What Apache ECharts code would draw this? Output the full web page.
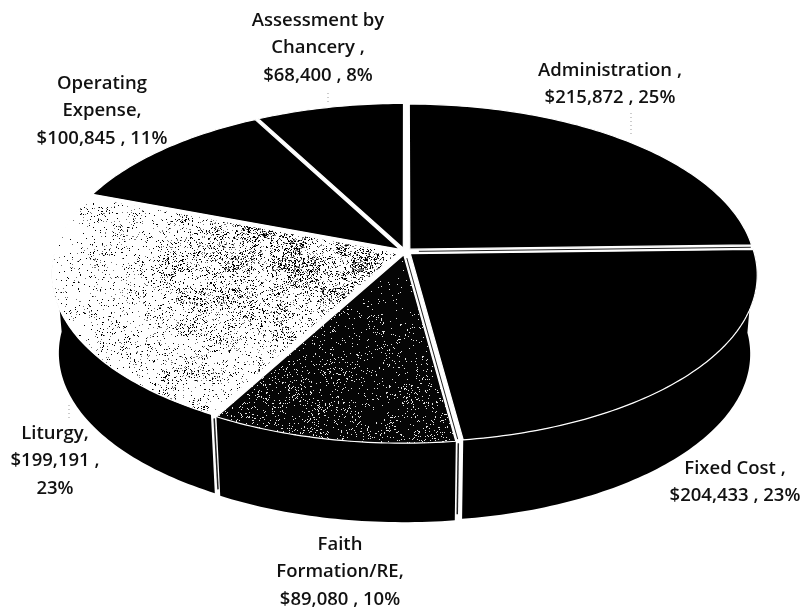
<!DOCTYPE html>
<html>
<head>
<meta charset="utf-8">
<script src="https://cdn.jsdelivr.net/npm/echarts@6/dist/echarts.min.js"></script>
<style>html,body{margin:0;padding:0;background:#fff}#main{width:804px;height:609px}</style>
</head>
<body>
<div id="main"></div>
<script>
// clockwise from 12 o'clock
var categories = ['Administration', 'Fixed Cost', 'Faith Formation/RE', 'Liturgy', 'Operating Expense', 'Assessment by Chancery'];
var amounts = [215872, 204433, 89080, 199191, 100845, 68400];
var labelLines = [
    ['Administration ,', '$215,872 , 25%'],
    ['Fixed Cost ,', '$204,433 , 23%'],
    ['Faith', 'Formation/RE,', '$89,080 , 10%'],
    ['Liturgy,', '$199,191 ,', '23%'],
    ['Operating', 'Expense,', '$100,845 , 11%'],
    ['Assessment by', 'Chancery ,', '$68,400 , 8%']
];

// tilted disc, front is nearer so it comes out bigger
var CX = 405, CY = 251.5, RX = 347, RY = 165.5, PERSP = 0.127, DEPTH = 79, BASE_SHRINK = 0.98;
var RIM = 0.99, EXPLODE = 0.02;
var labelAnchors = [[610, 84], [735, 482], [340, 572], [55, 461], [102, 111], [318, 48]];
var leaderLines = [[328, 93, 328, 103], [631, 113, 631, 137], [69, 405, 69, 418]];
var LINE_H = 27.5;

var total = amounts.reduce(function (a, b) { return a + b; }, 0);
var slices = [];
(function () {
    var acc = 0;
    amounts.forEach(function (v) {
        var start = acc / total * 360;
        acc += v;
        slices.push({ start: start, end: acc / total * 360 });
    });
})();

function project(deg, r, slice, low) {
    var a = deg * Math.PI / 180;
    var mid = (slice.start + slice.end) / 2 * Math.PI / 180;
    var px = r * Math.sin(a) + EXPLODE * Math.sin(mid);
    var py = -r * Math.cos(a) - EXPLODE * Math.cos(mid);
    var w = 1 - PERSP * py;
    return [
        CX + RX * px / w * (low ? BASE_SHRINK : 1),
        CY + RY * py / w + (low ? DEPTH : 0)
    ];
}

function arcPoints(from, to, slice, low) {
    var pts = [], n = Math.max(2, Math.ceil(Math.abs(to - from)));
    for (var i = 0; i <= n; i++) {
        pts.push(project(from + (to - from) * i / n, RIM, slice, low));
    }
    return pts;
}

// speckle left by the scan, a fixed hash so every run looks the same
function hash(x, y) {
    var h = (x * 374761393 + y * 668265263) | 0;
    h = Math.imul(h ^ (h >>> 13), 1274126177);
    return ((h ^ (h >>> 16)) >>> 0) / 4294967296;
}
function speckle(pick) {
    var c = document.createElement('canvas');
    c.width = 804; c.height = 609;
    var g = c.getContext('2d'), img = g.createImageData(804, 609);
    for (var y = 0; y < 609; y++) {
        for (var x = 0; x < 804; x++) {
            var big = hash(x >> 4, y >> 4), small = hash(x >> 1, y >> 1);
            var v = pick(x, y, big * 0.6 + small * 0.8, hash(x, y));
            var i = (y * 804 + x) * 4;
            img.data[i] = img.data[i + 1] = img.data[i + 2] = v;
            img.data[i + 3] = 255;
        }
    }
    g.putImageData(img, 0, 0);
    return c;
}
var lightGrain = speckle(function (x, y, clump, n) {
    var near = Math.min(1, Math.max(0, (x - 60) / 340));
    var band = Math.max(0, 1 - Math.abs(y - 235 - (x - 400) * -0.1) / 70);
    var d = (0.03 + 0.18 * near + 0.16 * band * near) * clump * clump * 2;
    return n < d ? (n < d * 0.55 ? 0 : 120) : 255;
});
var darkGrain = speckle(function (x, y, clump, n) {
    var low = Math.min(1, Math.max(0, (y - 300) / 130));
    var d = (0.02 + 0.06 * low) * clump * clump * 2;
    return n < d ? 225 : 5;
});
var topFill = ['#000', '#000', { image: darkGrain, repeat: 'no-repeat' }, { image: lightGrain, repeat: 'no-repeat' }, '#000', '#000'];

function renderWall(params) {
    var s = slices[params.dataIndex];
    var from = Math.max(s.start, 90), to = Math.min(s.end, 270);
    if (from >= to) return { type: 'group', children: [] };
    var pts = arcPoints(from, to, s, false).concat(arcPoints(to, from, s, true));
    return { type: 'polygon', shape: { points: pts }, style: { fill: '#000' } };
}

function renderTop(params) {
    var i = params.dataIndex, s = slices[i];
    var pts = [project(0, 0, s, false)].concat(arcPoints(s.start, s.end, s, false));
    return {
        type: 'polygon',
        shape: { points: pts },
        style: { fill: topFill[i], stroke: '#fff', lineWidth: 1.2, lineJoin: 'round' }
    };
}

// dark hairline left inside the gaps at the start of Fixed Cost and Faith, on the wall too at Faith and Liturgy
function renderSeam(params) {
    var idx = params.dataIndex + 1, deg = slices[idx].start;
    var s = { start: deg, end: deg };
    var children = [];
    if (idx < 3) {
        var a = project(deg, 0.02, s, false), b = project(deg, 0.98, s, false);
        children.push({ type: 'line', shape: { x1: a[0], y1: a[1], x2: b[0], y2: b[1] }, style: { stroke: '#222', lineWidth: 1 } });
    }
    if (deg > 90 && deg < 270) {
        var c = project(deg, RIM, s, false), d = project(deg, RIM, s, true);
        children.push({ type: 'line', shape: { x1: c[0], y1: c[1] + 2, x2: d[0], y2: d[1] - 6 }, style: { stroke: '#222', lineWidth: 1.5 } });
    }
    return { type: 'group', children: children };
}

function renderLabel(params) {
    var i = params.dataIndex;
    return {
        type: 'text',
        x: labelAnchors[i][0],
        y: labelAnchors[i][1],
        style: {
            text: labelLines[i].join('\n'),
            fill: '#111',
            font: '600 18.5px "Open Sans"',
            lineHeight: LINE_H,
            align: 'center',
            verticalAlign: 'middle'
        }
    };
}

function renderLeader(params, api) {
    return {
        type: 'line',
        shape: { x1: api.value(0), y1: api.value(1), x2: api.value(2), y2: api.value(3) },
        style: { stroke: '#999', lineWidth: 1, lineDash: [1, 3] }
    };
}

var chart = echarts.init(document.getElementById('main'));
var items = categories.map(function (name, i) { return { name: name, value: amounts[i] }; });
chart.setOption({
    animation: false,
    backgroundColor: '#fff',
    series: [
        { type: 'custom', coordinateSystem: 'none', z: 1, data: items, renderItem: renderWall },
        { type: 'custom', coordinateSystem: 'none', z: 2, data: items, renderItem: renderTop },
        { type: 'custom', coordinateSystem: 'none', z: 3, data: items.slice(1, 4), renderItem: renderSeam },
        { type: 'custom', coordinateSystem: 'none', z: 3, data: leaderLines, renderItem: renderLeader },
        { type: 'custom', coordinateSystem: 'none', z: 4, data: items, renderItem: renderLabel }
    ]
});
</script>
</body>
</html>
